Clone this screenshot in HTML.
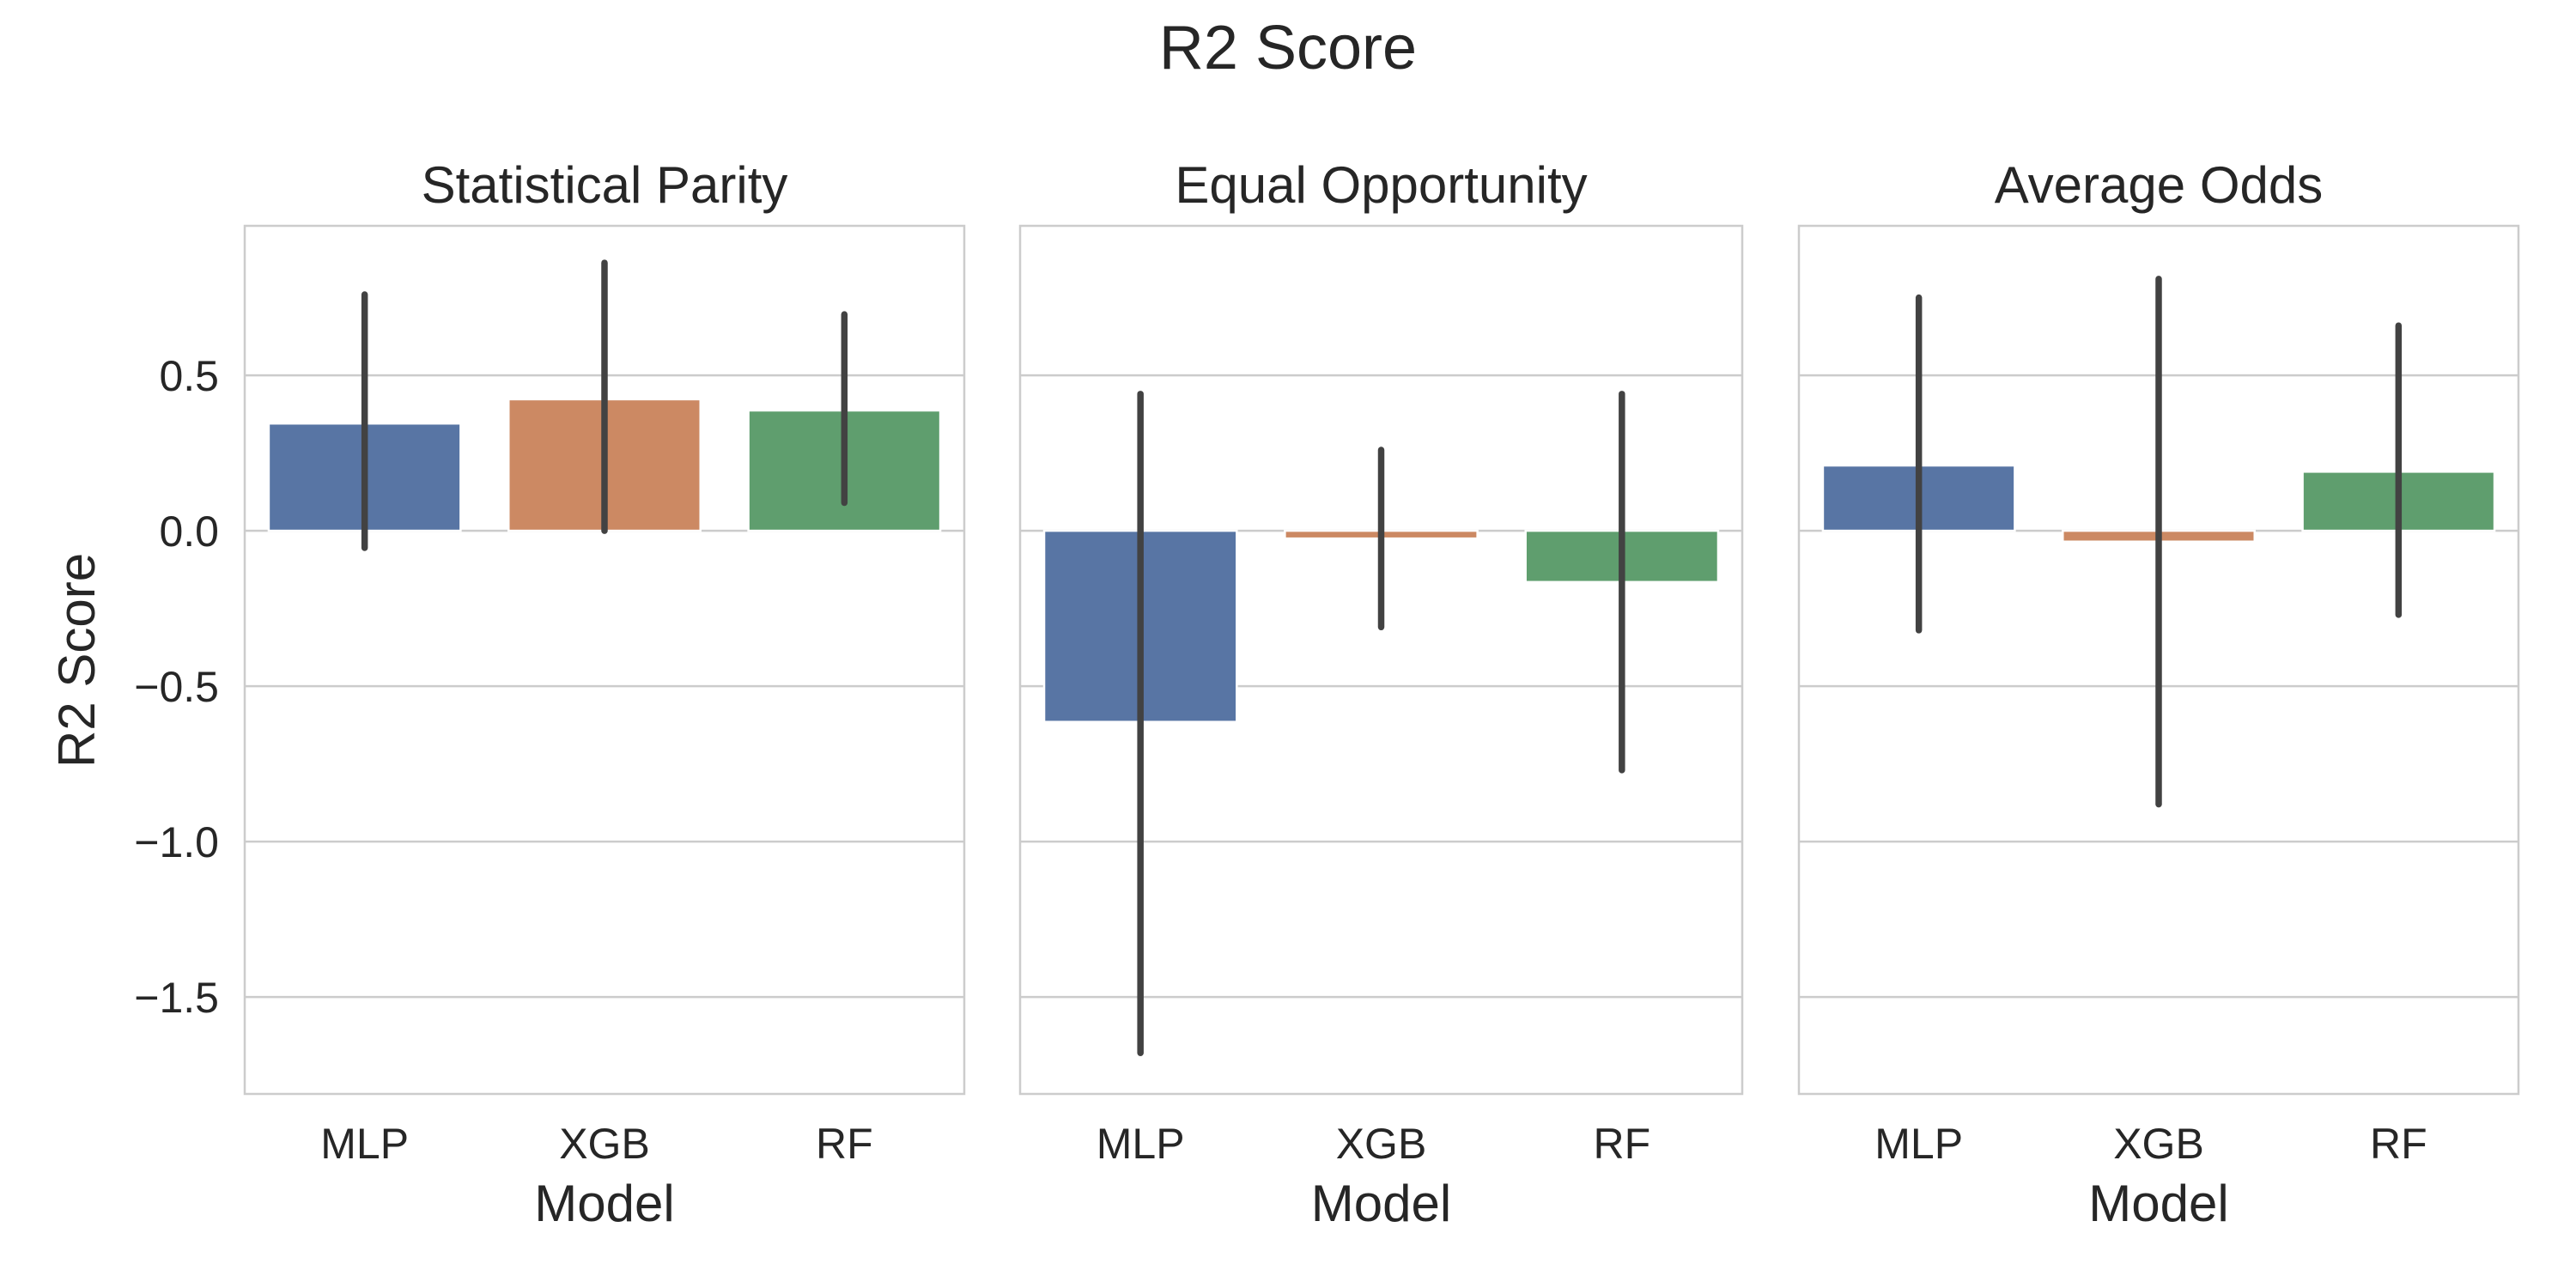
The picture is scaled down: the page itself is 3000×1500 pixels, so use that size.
<!DOCTYPE html>
<html><head><meta charset="utf-8"><style>
html,body{margin:0;padding:0;background:#fff;}
svg{display:block;font-family:"Liberation Sans",sans-serif;}
</style></head><body>
<svg id="chart" width="3000" height="1500" viewBox="0 0 3000 1500">
<text x="1500" y="80" font-size="72" text-anchor="middle" fill="#262626">R2 Score</text>
<text transform="translate(110,769) rotate(-90)" font-size="60" text-anchor="middle" fill="#262626">R2 Score</text>
<g id="plots"></g>
</svg>
<script>
const categories = ["MLP","XGB","RF"];
const panelTitles = ["Statistical Parity","Equal Opportunity","Average Odds"];
const spValues = [0.345, 0.423, 0.387];
const spLow = [-0.055, 0.0, 0.09];
const spHigh = [0.76, 0.862, 0.696];
const eoValues = [-0.615, -0.025, -0.165];
const eoLow = [-1.68, -0.31, -0.77];
const eoHigh = [0.44, 0.26, 0.44];
const aoValues = [0.21, -0.035, 0.19];
const aoLow = [-0.32, -0.88, -0.27];
const aoHigh = [0.75, 0.81, 0.66];
const yTicks = [0.5, 0.0, -0.5, -1.0, -1.5];
const yTickLabels = ["0.5","0.0","\u22120.5","\u22121.0","\u22121.5"];
const colors = ["#5875a4","#cc8963","#5f9e6e"];

const NS = "http://www.w3.org/2000/svg";
const plotsG = document.getElementById("plots");
const plotTop = 263, plotBottom = 1274;
const yMin = -1.812, yMax = 0.981;
function yScale(v){ return plotTop + (yMax - v) / (yMax - yMin) * (plotBottom - plotTop); }
const panels = [
  {x0:285, x1:1123, vals:spValues, lo:spLow, hi:spHigh, key:"statistical-parity"},
  {x0:1188, x1:2029, vals:eoValues, lo:eoLow, hi:eoHigh, key:"equal-opportunity"},
  {x0:2095, x1:2933, vals:aoValues, lo:aoLow, hi:aoHigh, key:"average-odds"}
];
function mk(tag, attrs, parent){
  const e = document.createElementNS(NS, tag);
  for (const k in attrs) e.setAttribute(k, attrs[k]);
  (parent||plotsG).appendChild(e);
  return e;
}
panels.forEach((p, pi) => {
  const pg = mk("g", {});
  
  
  const w = p.x1 - p.x0;
  const step = w / categories.length;
  function xScale(i){ return p.x0 + step * (i + 0.5); }
  yTicks.forEach((t, ti) => {
    const ln = mk("line", {x1:p.x0, x2:p.x1, y1:yScale(t), y2:yScale(t), stroke:"#cccccc", "stroke-width":2.5}, pg);
    
    
    if (pi === 0) {
      const tl = mk("text", {x:p.x0 - 30, y:yScale(t) + 18, "font-size":50, "text-anchor":"end", fill:"#262626"}, pg);
      tl.textContent = yTickLabels[ti];
      
      
    }
  });
  const frame = mk("rect", {x:p.x0, y:plotTop, width:w, height:plotBottom - plotTop, fill:"none", stroke:"#cccccc", "stroke-width":2.5}, pg);
  
  
  categories.forEach((c, i) => {
    const bw = step * 0.8;
    const v = p.vals[i];
    const r = mk("rect", {x:xScale(i) - bw/2, y:Math.min(yScale(v), yScale(0)), width:bw, height:Math.abs(yScale(v) - yScale(0)), fill:colors[i], stroke:"#ffffff", "stroke-width":2.5}, pg);
    
    
    const eb = mk("line", {x1:xScale(i), x2:xScale(i), y1:yScale(p.hi[i]), y2:yScale(p.lo[i]), stroke:"#424242", "stroke-width":7.5, "stroke-linecap":"round"}, pg);
    
    
    const tl = mk("text", {x:xScale(i), y:1349, "font-size":50, "text-anchor":"middle", fill:"#262626"}, pg);
    tl.textContent = c;
    
    
  });
  const xt = mk("text", {x:(p.x0 + p.x1)/2, y:1422, "font-size":60, "text-anchor":"middle", fill:"#262626"}, pg);
  xt.textContent = "Model";
  
  
  const st = mk("text", {x:(p.x0 + p.x1)/2, y:236, "font-size":60, "text-anchor":"middle", fill:"#262626"}, pg);
  st.textContent = panelTitles[pi];
  
  
});
</script>
</body></html>
